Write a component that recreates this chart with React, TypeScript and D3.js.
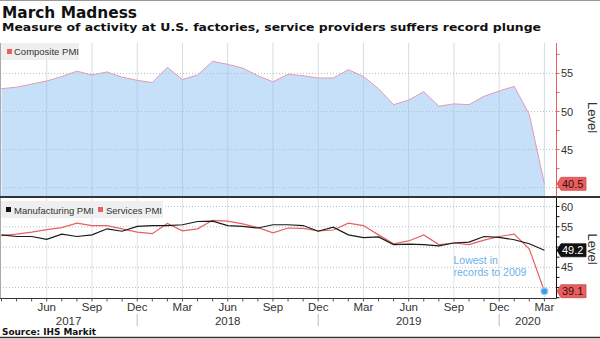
import React from "react";
import * as d3 from "d3";

const months = [
  "Mar17","Apr17","May17","Jun17","Jul17","Aug17","Sep17","Oct17","Nov17","Dec17",
  "Jan18","Feb18","Mar18","Apr18","May18","Jun18","Jul18","Aug18","Sep18","Oct18","Nov18","Dec18",
  "Jan19","Feb19","Mar19","Apr19","May19","Jun19","Jul19","Aug19","Sep19","Oct19","Nov19","Dec19",
  "Jan20","Feb20","Mar20",
];
const composite = [
  53.0, 53.2, 53.6, 54.0, 54.6, 55.3, 54.8, 55.2, 54.5, 54.1,
  53.8, 55.8, 54.2, 54.8, 56.6, 56.2, 55.7, 54.7, 53.9, 54.9, 54.7, 54.4,
  54.4, 55.5, 54.6, 53.0, 50.9, 51.5, 52.6, 50.7, 51.0, 50.9, 52.0, 52.7,
  53.3, 49.6, 40.5,
];
const manufacturing = [
  53.0, 52.6, 52.6, 51.9, 53.2, 52.6, 53.0, 54.5, 53.9, 55.1,
  55.3, 55.3, 55.5, 56.3, 56.4, 55.3, 55.1, 54.7, 55.5, 55.5, 55.3, 53.9,
  54.9, 53.0, 52.3, 52.5, 50.6, 50.7, 50.6, 50.3, 51.0, 51.2, 52.6, 52.4,
  51.8, 50.8, 49.2,
];
const services = [
  52.8, 53.2, 53.7, 54.3, 54.8, 55.9, 55.3, 55.3, 54.5, 53.7,
  53.3, 55.8, 54.0, 54.5, 56.6, 56.4, 55.7, 54.8, 53.5, 54.7, 54.6, 54.0,
  54.2, 55.9, 55.3, 53.0, 50.8, 51.5, 53.0, 50.6, 51.0, 50.6, 51.7, 52.6,
  53.2, 49.5, 39.1,
];
const monthTickLabels = [
  { i: 3, label: "Jun" }, { i: 6, label: "Sep" }, { i: 9, label: "Dec" },
  { i: 12, label: "Mar" }, { i: 15, label: "Jun" }, { i: 18, label: "Sep" }, { i: 21, label: "Dec" },
  { i: 24, label: "Mar" }, { i: 27, label: "Jun" }, { i: 30, label: "Sep" }, { i: 33, label: "Dec" },
  { i: 36, label: "Mar" },
];
const yearLabels = ["2017", "2018", "2019", "2020"];
const yearBreaks = [9, 21, 33];
const topTicks = [40, 45, 50, 55];
const bottomTicks = [40, 45, 50, 55, 60];

const W = 600;
const H = 339;
const PL = 0;
const PR = 556.5;
const TOP_Y0 = 43;
const TOP_Y1 = 196;
const BOT_Y0 = 198;
const BOT_Y1 = 298.5;

const TICK_FONT = "'Liberation Sans', Arial, sans-serif";
const TITLE_FONT = "'DejaVu Sans', Verdana, sans-serif";
const RED = "#e8605f";
const BLUE_FILL = "#c6e0fa";

export default function App() {
  const x = d3.scaleLinear().domain([0, 36]).range([1.5, 544.4]);
  const yTop = d3.scaleLinear().domain([38.9, 59]).range([TOP_Y1, TOP_Y0]);
  const yBot = d3.scaleLinear().domain([37.3, 62.1]).range([BOT_Y1, BOT_Y0]);

  const areaTop = d3
    .area<number>()
    .x((_, i) => x(i))
    .y0(TOP_Y1)
    .y1((d) => yTop(d));
  const lineTop = d3
    .line<number>()
    .x((_, i) => x(i))
    .y((d) => yTop(d));
  const lineBot = d3
    .line<number>()
    .x((_, i) => x(i))
    .y((d) => yBot(d));

  const minorTop = d3.range(40, 59, 2.5);
  const minorBot = d3.range(37.5, 62, 2.5);

  const last = months.length - 1;
  const topBoxYs = [yTop(composite[last])];
  const botBoxYs = [yBot(manufacturing[last]), yBot(services[last])];
  const clear = (y: number, boxes: number[]) => boxes.every((b) => Math.abs(b - y) > 11);

  const valueBox = (cy: number, v: string, fill: string, color: string, key: string) => {
    const tip = PR + 0.5;
    const x0 = 561;
    const x1 = 586;
    const h = 6.5;
    return (
      <g key={key}>
        <path
          d={`M${tip},${cy} L${x0},${cy - h} L${x1},${cy - h} L${x1},${cy + h} L${x0},${cy + h} Z`}
          fill={fill}
          stroke={fill === "#111" ? "#111" : "#c94a4a"}
          strokeWidth={0.8}
        />
        <text x={x0 + 1} y={cy + 4} fontFamily={TICK_FONT} fontSize={11} fill={color}>
          {v}
        </text>
      </g>
    );
  };

  const yearSpans = [
    [PL, x(yearBreaks[0])],
    [x(yearBreaks[0]), x(yearBreaks[1])],
    [x(yearBreaks[1]), x(yearBreaks[2])],
    [x(yearBreaks[2]), PR],
  ];

  return (
    <svg
      width={W}
      height={H}
      style={{ position: "absolute", left: 0, top: 0, background: "#fff" }}
    >
      <defs>
        <clipPath id="topClip">
          <rect x={PL} y={TOP_Y0} width={PR - PL} height={TOP_Y1 - TOP_Y0} />
        </clipPath>
        <clipPath id="botClip">
          <rect x={PL} y={BOT_Y0} width={PR - PL} height={BOT_Y1 - BOT_Y0} />
        </clipPath>
      </defs>
      <rect x={0} y={0} width={W} height={H} fill="#fff" />
      <line x1={0} x2={W} y1={0.5} y2={0.5} stroke="#999" />

      {/* Titles */}
      <text x={2} y={18.3} fontFamily={TITLE_FONT} fontWeight="bold" fontSize={16.5} fill="#111"
        textLength={135} lengthAdjust="spacingAndGlyphs">
        March Madness
      </text>
      <text x={2} y={31} fontFamily={TITLE_FONT} fontWeight="bold" fontSize={10.8} fill="#111"
        textLength={539} lengthAdjust="spacingAndGlyphs">
        Measure of activity at U.S. factories, service providers suffers record plunge
      </text>

      {/* Top panel */}
      <g>
        {monthTickLabels.map((t) => (
          <line key={"vgt" + t.i} x1={x(t.i)} x2={x(t.i)} y1={TOP_Y0} y2={TOP_Y1} stroke="#d6dbe2" strokeWidth={1} />
        ))}
        <path d={areaTop(composite) || ""} fill={BLUE_FILL} clipPath="url(#topClip)" />
        {monthTickLabels.map((t) => (
          <line key={"vgt2" + t.i} x1={x(t.i)} x2={x(t.i)} y1={yTop(composite[t.i])} y2={TOP_Y1} stroke="#b9cde2" strokeWidth={1} />
        ))}
        {topTicks.map((v) => (
          <line key={"hgt" + v} x1={PL} x2={PR} y1={yTop(v)} y2={yTop(v)} stroke="#b5bec8" strokeWidth={1} strokeDasharray="1,2" />
        ))}
        <path d={lineTop(composite) || ""} fill="none" stroke="#e39aae" strokeWidth={1} clipPath="url(#topClip)" />
        <line x1={0.5} x2={0.5} y1={TOP_Y0} y2={TOP_Y1} stroke="#aaa" />
        {/* legend */}
        <rect x={1} y={43} width={78} height={17} fill="#eeeeee" opacity={0.92} />
        <rect x={7} y={49} width={5} height={5} fill={RED} />
        <text x={14} y={55} fontFamily={TICK_FONT} fontSize={9.5} fill="#333">Composite PMI</text>
        {/* axis */}
        <line x1={PR} x2={PR} y1={TOP_Y0} y2={TOP_Y1} stroke={RED} strokeWidth={1} />
        {minorTop.map((v) => (
          <line key={"mt" + v} x1={PR} x2={PR + 3} y1={yTop(v)} y2={yTop(v)} stroke={RED} strokeWidth={1} />
        ))}
        {topTicks.filter((v) => clear(yTop(v), topBoxYs)).map((v) => (
          <text key={"tt" + v} x={561} y={yTop(v) + 4} fontFamily={TICK_FONT} fontSize={11} fill="#333">{v}</text>
        ))}
        <text transform={`translate(588,${(TOP_Y0 + TOP_Y1) / 2 - 2}) rotate(90)`} textAnchor="middle"
          fontFamily={TICK_FONT} fontSize={13} fill="#333">Level</text>
        {valueBox(topBoxYs[0], "40.5", RED, "#3a0d0d", "vb1")}
      </g>

      {/* separator */}
      <line x1={0} x2={W} y1={197} y2={197} stroke="#333" strokeWidth={2} />

      {/* Bottom panel */}
      <g>
        {monthTickLabels.map((t) => (
          <line key={"vgb" + t.i} x1={x(t.i)} x2={x(t.i)} y1={BOT_Y0} y2={BOT_Y1} stroke="#dfe3e8" strokeWidth={1} />
        ))}
        {bottomTicks.map((v) => (
          <line key={"hgb" + v} x1={PL} x2={PR} y1={yBot(v)} y2={yBot(v)} stroke="#b5bec8" strokeWidth={1} strokeDasharray="1,2" />
        ))}
        <line x1={0.5} x2={0.5} y1={BOT_Y0} y2={BOT_Y1} stroke="#aaa" />
        <path d={lineBot(services) || ""} fill="none" stroke={RED} strokeWidth={1.2} clipPath="url(#botClip)" />
        <path d={lineBot(manufacturing) || ""} fill="none" stroke="#1a1a1a" strokeWidth={1.2} clipPath="url(#botClip)" />
        {/* legend */}
        <rect x={1} y={201} width={162} height={17} fill="#eeeeee" opacity={0.92} />
        <rect x={6} y={207} width={5} height={5} fill="#111" />
        <text x={14} y={213.5} fontFamily={TICK_FONT} fontSize={9.5} fill="#333">Manufacturing PMI</text>
        <rect x={98} y={207} width={5} height={5} fill={RED} />
        <text x={106} y={213.5} fontFamily={TICK_FONT} fontSize={9.5} fill="#333">Services PMI</text>
        {/* annotation */}
        <circle cx={x(last)} cy={yBot(services[last])} r={4} fill="#9fd0f7" />
        <circle cx={x(last)} cy={yBot(services[last])} r={2.8} fill="#3d9be9" />
        <text x={453.5} y={263.5} fontFamily={TICK_FONT} fontSize={10.5} fill="#6ab2ea">Lowest in</text>
        <text x={453.5} y={276} fontFamily={TICK_FONT} fontSize={10.5} fill="#6ab2ea">records to 2009</text>
        {/* axis */}
        <line x1={PR} x2={PR} y1={BOT_Y0} y2={BOT_Y1} stroke="#111" strokeWidth={1} />
        {minorBot.map((v) => (
          <line key={"mb" + v} x1={PR} x2={PR + 3} y1={yBot(v)} y2={yBot(v)} stroke="#111" strokeWidth={1} />
        ))}
        {bottomTicks.filter((v) => clear(yBot(v), botBoxYs)).map((v) => (
          <text key={"tb" + v} x={561} y={yBot(v) + 4} fontFamily={TICK_FONT} fontSize={11} fill="#333">{v}</text>
        ))}
        <text transform={`translate(588,${249}) rotate(90)`} textAnchor="middle"
          fontFamily={TICK_FONT} fontSize={13} fill="#333">Level</text>
        {valueBox(botBoxYs[0], "49.2", "#111", "#fff", "vb2")}
        {valueBox(botBoxYs[1], "39.1", RED, "#3a0d0d", "vb3")}
      </g>

      {/* x axis */}
      <line x1={PL} x2={PR} y1={BOT_Y1} y2={BOT_Y1} stroke="#333" strokeWidth={1.2} />
      {months.map((m, i) => (
        <line key={"xt" + m} x1={x(i)} x2={x(i)} y1={BOT_Y1} y2={BOT_Y1 + 3} stroke="#555" strokeWidth={1} />
      ))}
      {monthTickLabels.map((t) => (
        <text key={"ml" + t.i} x={x(t.i)} y={310.5} textAnchor="middle" fontFamily={TICK_FONT} fontSize={11.5} fill="#333">
          {t.label}
        </text>
      ))}
      {yearBreaks.map((b) => (
        <line key={"yb" + b} x1={x(b)} x2={x(b)} y1={314} y2={326} stroke="#bbb" strokeWidth={1} />
      ))}
      {yearLabels.map((y, k) => (
        <text key={"yl" + y} x={(yearSpans[k][0] + yearSpans[k][1]) / 2} y={324.5} textAnchor="middle"
          fontFamily={TICK_FONT} fontSize={11.5} fill="#333">
          {y}
        </text>
      ))}

      {/* source */}
      <text x={2} y={334.8} fontFamily={TITLE_FONT} fontWeight="bold" fontSize={9} fill="#111"
        textLength={94} lengthAdjust="spacingAndGlyphs">
        Source: IHS Markit
      </text>
      <line x1={0} x2={W} y1={337.5} y2={337.5} stroke="#333" strokeWidth={1.5} />
    </svg>
  );
}
